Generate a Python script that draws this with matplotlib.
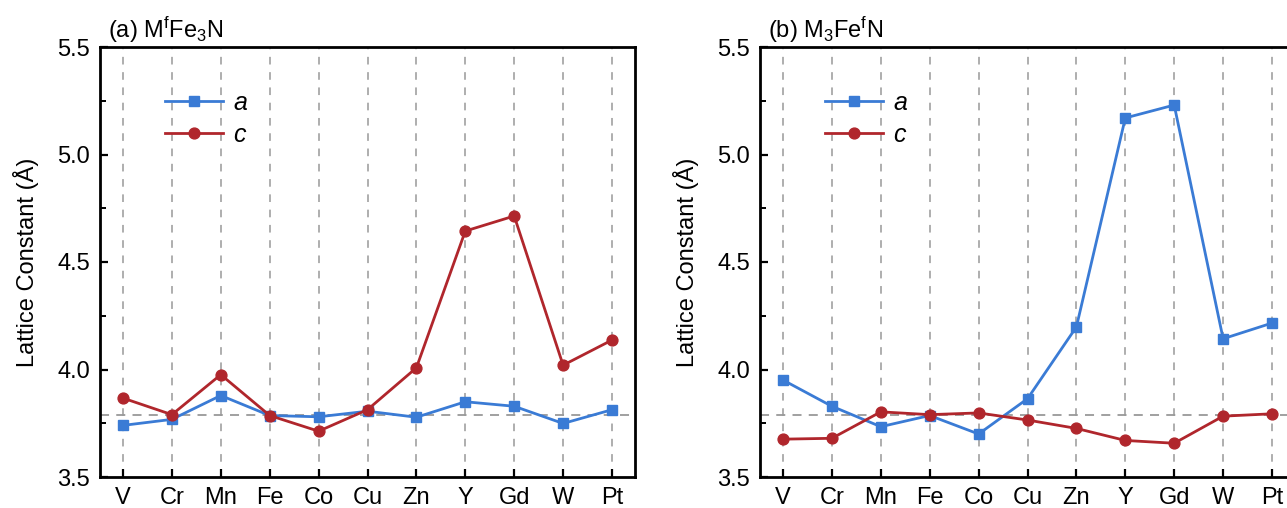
import numpy as np
import matplotlib
matplotlib.use('Agg')
import matplotlib.pyplot as plt
from matplotlib.ticker import MultipleLocator

plt.rcParams['font.family'] = ['Liberation Sans', 'DejaVu Sans']
plt.rcParams['mathtext.fontset'] = 'custom'
plt.rcParams['mathtext.rm'] = 'Liberation Sans'
plt.rcParams['mathtext.it'] = 'Liberation Sans:italic'

elements = ['V', 'Cr', 'Mn', 'Fe', 'Co', 'Cu', 'Zn', 'Y', 'Gd', 'W', 'Pt']

# (a) M^f Fe3 N
a_left = [3.74, 3.768, 3.879, 3.786, 3.78, 3.806, 3.778, 3.85, 3.829, 3.749, 3.813]
c_left = [3.867, 3.79, 3.976, 3.786, 3.713, 3.813, 4.008, 4.644, 4.714, 4.02, 4.137]

# (b) M3 Fe^f N
a_right = [3.951, 3.829, 3.734, 3.786, 3.70, 3.864, 4.198, 5.17, 5.23, 4.143, 4.216]
c_right = [3.676, 3.680, 3.803, 3.79, 3.798, 3.765, 3.726, 3.67, 3.657, 3.783, 3.794]

fe4n_ref = 3.79
titles = [r'(a) M$^{\mathrm{f}}$Fe$_{3}$N', r'(b) M$_{3}$Fe$^{\mathrm{f}}$N']

blue = '#3a7bd5'
red = '#b0262c'

W, H = 1287, 508
fig = plt.figure(figsize=(W / 100, H / 100), dpi=100)

panels = [(100, a_left, c_left, titles[0]), (760, a_right, c_right, titles[1])]
x = np.arange(len(elements))

for left_px, a_vals, c_vals, title in panels:
    ax = fig.add_axes([left_px / W, 31 / H, 535 / W, 430 / H])
    for xi in x:
        ax.axvline(xi, color='#999999', ls=(0, (5, 5)), lw=1.1, zorder=0)
    ax.axhline(fe4n_ref, color='#999999', ls=(0, (5, 4)), lw=1.3, zorder=0)

    ax.plot(x, a_vals, color=blue, marker='s', ms=6.8, lw=2, label='$a$')
    ax.plot(x, c_vals, color=red, marker='o', ms=7.8, lw=2, label='$c$')

    ax.set_xlim(-0.47, 10.47)
    ax.set_ylim(3.5, 5.5)
    ax.set_xticks(x)
    ax.set_xticklabels(elements)
    ax.yaxis.set_major_locator(MultipleLocator(0.5))
    ax.yaxis.set_minor_locator(MultipleLocator(0.25))
    ax.tick_params(axis='both', which='major', direction='in', labelsize=17,
                   length=6, width=1.6, pad=7)
    ax.tick_params(axis='y', which='minor', direction='in', length=4, width=1.4)
    for sp in ax.spines.values():
        sp.set_linewidth(2)
    ax.set_ylabel('Lattice Constant (Å)', fontsize=17, labelpad=13)
    ax.text(0.015, 1.005, title, transform=ax.transAxes, fontsize=17,
            ha='left', va='bottom')
    ax.legend(loc='upper left', bbox_to_anchor=(0.08, 0.95), frameon=False,
              fontsize=18, handlelength=2.3, handletextpad=0.4, labelspacing=0.3)

fig.savefig('out.png', dpi=100)
